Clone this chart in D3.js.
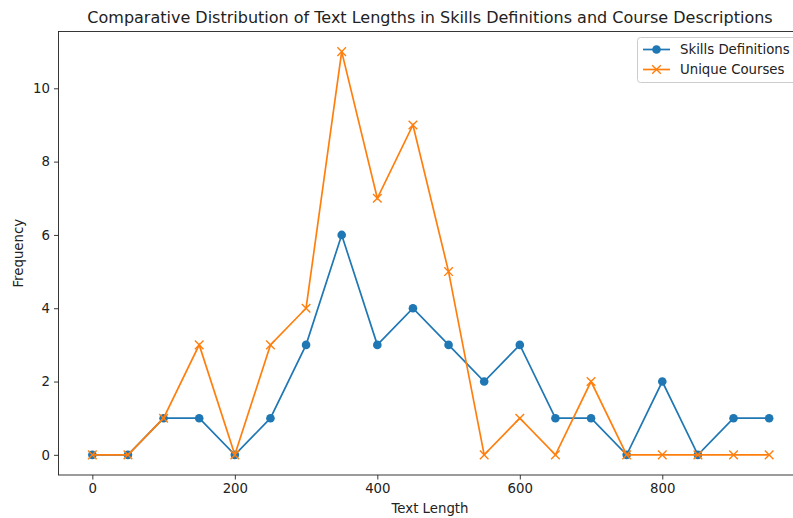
<!DOCTYPE html>
<html><head><meta charset="utf-8">
<script src="https://cdn.jsdelivr.net/npm/d3@7"></script>
<style>body{margin:0;background:#fff;} svg{display:block;} text{font-family:"DejaVu Sans",sans-serif;fill:#222;}</style>
</head><body>
<svg id="c" width="793" height="518"></svg>
<script>
const textLengths = [0,50,100,150,200,250,300,350,400,450,500,550,600,650,700,750,800,850,900,950];
const skillsDefinitions = [0,0,1,1,0,1,3,6,3,4,3,2,3,1,1,0,2,0,1,1];
const uniqueCourses = [0,0,1,3,0,3,4,11,7,9,5,0,1,0,2,0,0,0,0,0];
const xTicks = [0,200,400,600,800];
const yTicks = [0,2,4,6,8,10];
const seriesNames = ["Skills Definitions","Unique Courses"];
const colors = ["#1f77b4","#ff7f0e"];

const svg = d3.select("#c");
const L = 58.5, R = 803, T = 31.5, B = 475;
const x = d3.scaleLinear().domain([-47.5, 997.5]).range([L, R]);
const y = d3.scaleLinear().domain([-0.55, 11.55]).range([B, T]);
const fs = "13.3px";

// axes
const xa = svg.append("g").attr("transform",`translate(0,${B})`)
  .call(d3.axisBottom(x).tickValues(xTicks).tickSize(4.5).tickPadding(4).tickFormat(d3.format("d")));
const ya = svg.append("g").attr("transform",`translate(${L},0)`)
  .call(d3.axisLeft(y).tickValues(yTicks).tickSize(4.5).tickPadding(4).tickFormat(d3.format("d")));
[xa,ya].forEach(a=>{a.select(".domain").remove();a.selectAll("text").style("font-size",fs).style("font-family","DejaVu Sans").attr("fill","#222");a.selectAll("line").attr("stroke","#222").attr("stroke-width",0.9);});
xa.selectAll("text").attr("dy","0.75em");

// spines
svg.append("rect").attr("x",L).attr("y",T).attr("width",R-L).attr("height",B-T)
  .attr("fill","none").attr("stroke","#222").attr("stroke-width",0.9);

const line = d3.line().x((d,i)=>x(textLengths[i])).y(d=>y(d));

// Skills
svg.append("path").datum(skillsDefinitions).attr("d",line).attr("fill","none")
  .attr("stroke",colors[0]).attr("stroke-width",1.7);
svg.append("g").selectAll("circle").data(skillsDefinitions).join("circle")
  .attr("cx",(d,i)=>x(textLengths[i])).attr("cy",d=>y(d)).attr("r",4.3).attr("fill",colors[0]);

// Unique
svg.append("path").datum(uniqueCourses).attr("d",line).attr("fill","none")
  .attr("stroke",colors[1]).attr("stroke-width",1.7);
const cross = (g,cx,cy,s,c)=>{
  g.append("path").attr("d",`M${cx-s},${cy-s}L${cx+s},${cy+s}M${cx-s},${cy+s}L${cx+s},${cy-s}`)
   .attr("stroke",c).attr("stroke-width",1.4).attr("fill","none");
};
const ug = svg.append("g");
uniqueCourses.forEach((d,i)=>cross(ug,x(textLengths[i]),y(d),4.3,colors[1]));

// title & labels
svg.append("text").attr("x",430).attr("y",23).attr("text-anchor","middle").style("font-size","16px")
  .text("Comparative Distribution of Text Lengths in Skills Definitions and Course Descriptions");
svg.append("text").attr("x",430).attr("y",513).attr("text-anchor","middle").style("font-size",fs).text("Text Length");
svg.append("text").attr("transform",`translate(23,${(T+B)/2}) rotate(-90)`).attr("text-anchor","middle").style("font-size",fs).text("Frequency");

// legend
const lg = svg.append("g");
lg.append("rect").attr("x",637.5).attr("y",37.5).attr("width",170).attr("height",45).attr("rx",3)
  .attr("fill","#fff").attr("fill-opacity",0.8).attr("stroke","#ccc");
seriesNames.forEach((n,i)=>{
  const yy = 49.5 + i*20;
  lg.append("line").attr("x1",643).attr("x2",670).attr("y1",yy).attr("y2",yy).attr("stroke",colors[i]).attr("stroke-width",1.7);
  if(i===0) lg.append("circle").attr("cx",656.5).attr("cy",yy).attr("r",4.3).attr("fill",colors[0]);
  else cross(lg,656.5,yy,4.3,colors[1]);
  lg.append("text").attr("x",680).attr("y",yy).attr("dy","0.35em").style("font-size",fs).text(n);
});
</script>
</body></html>
